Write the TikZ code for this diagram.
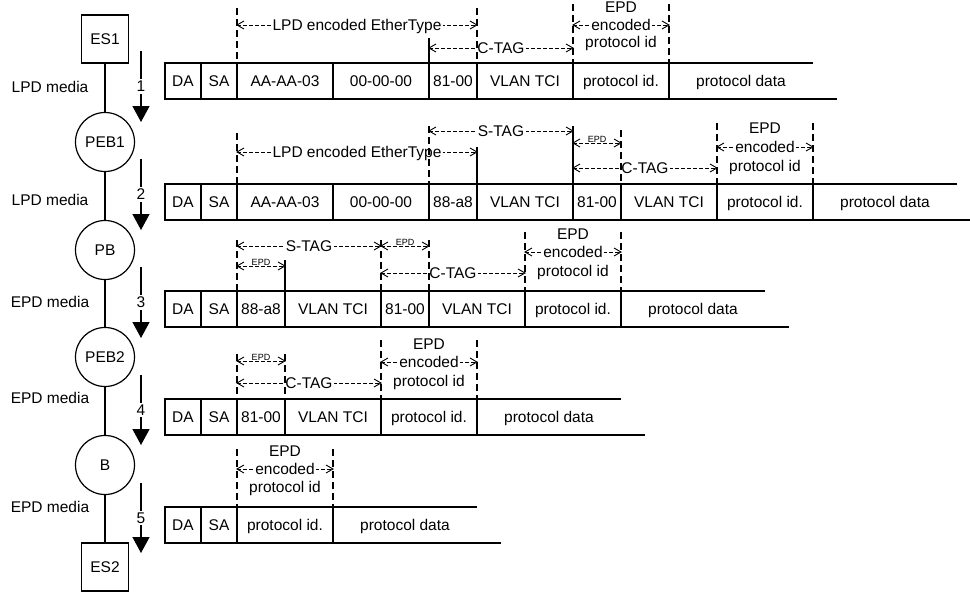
\documentclass[tikz,border=0pt]{standalone}
\usepackage{fontspec}
\setmainfont{Liberation Sans}
\usetikzlibrary{arrows.meta}
\tikzset{
  every node/.style={font=\fontsize{15.5}{18}\selectfont, inner sep=0pt},
  frm/.style={line width=1.2pt},
  cell/.style={text height=11.1pt, text depth=0pt},
  vsolid/.style={line width=1.2pt},
  vdash/.style={line width=1.2pt, dash pattern=on 7pt off 4pt},
  annd/.style={line width=0.8pt, dash pattern=on 4pt off 2pt},
  chev/.style={line width=0.9pt, line join=miter},
  lbl/.style={fill=white, inner xsep=1.5pt, inner ysep=1pt, text height=11.1pt, text depth=0pt},
  sm/.style={font=\fontsize{9}{10}\selectfont, fill=white, inner sep=0.6pt, anchor=south, yshift=-0.5pt},
  dev/.style={draw, line width=1.2pt, circle, minimum size=59pt},
  esbox/.style={draw, line width=1.2pt, minimum width=47pt, minimum height=48pt},
  flow/.style={line width=1.3pt, -{Triangle[length=16pt,width=17pt]}},
  num/.style={fill=white, inner xsep=1pt, inner ysep=2pt},
}
% dimension line: x1, x2, y, node name, node style, text
\newcommand\annot[6]{%
  \draw[annd] (#1,#3) -- node[#5] (#4) {#6} (#2,#3);
  \draw[chev] (#1,#3) ++(7,-4) -- ++(-7,4) -- ++(7,4);
  \draw[chev] (#2,#3) ++(-7,-4) -- ++(7,4) -- ++(-7,4);
}
\begin{document}
\begin{tikzpicture}[x=1pt,y=-1pt]
\useasboundingbox (0,0) rectangle (970,592);

% ---------------- left column ----------------
\node[esbox] (es1) at (105,39) {ES1};
\node[dev] (peb1) at (105,142) {PEB1};
\node[dev] (pb) at (105,250) {PB};
\node[dev] (peb2) at (105,357) {PEB2};
\node[dev] (b) at (105,465) {B};
\node[esbox] (es2) at (105,567) {ES2};
\draw[vsolid] (es1) -- (peb1) -- (pb) -- (peb2) -- (b) -- (es2);

\node (m1) at (50,87) {LPD media};
\node (m2) at (50,200) {LPD media};
\node (m3) at (50,302) {EPD media};
\node (m4) at (50,398) {EPD media};
\node (m5) at (50,507) {EPD media};

\coordinate (a1s) at (141,51);  \coordinate (a1e) at (141,122);
\coordinate (a2s) at (141,159); \coordinate (a2e) at (141,230);
\coordinate (a3s) at (141,267); \coordinate (a3e) at (141,338);
\coordinate (a4s) at (141,375); \coordinate (a4e) at (141,445);
\coordinate (a5s) at (141,483); \coordinate (a5e) at (141,553);
\draw[flow] (a1s) -- node[num] (n1) {1} (a1e);
\draw[flow] (a2s) -- node[num] (n2) {2} (a2e);
\draw[flow] (a3s) -- node[num] (n3) {3} (a3e);
\draw[flow] (a4s) -- node[num] (n4) {4} (a4e);
\draw[flow] (a5s) -- node[num] (n5) {5} (a5e);

% ---------------- row 1 ----------------
\draw[frm] (813,63) -- (165,63) -- (165,99) -- (837,99);
\foreach \x in {201,237,333,429,477,573,669} \draw[frm] (\x,63) -- (\x,99);
\node[cell] (r1a) at (183,81) {DA};
\node[cell] (r1b) at (219,81) {SA};
\node[cell] (r1c) at (285,81) {AA-AA-03};
\node[cell] (r1d) at (381,81) {00-00-00};
\node[cell] (r1e) at (453,81) {81-00};
\node[cell] (r1f) at (525,81) {VLAN TCI};
\node[cell] (r1g) at (621,81) {protocol id.};
\node[cell] (r1h) at (741,81) {protocol data};

\annot{237}{477}{25}{r1lpd}{lbl}{LPD encoded EtherType}
\annot{429}{573}{48}{r1ctag}{lbl}{C-TAG}
\node[lbl] (r1p1) at (621,7) {EPD};
\annot{573}{669}{25}{r1p2}{lbl}{encoded}
\node[lbl] (r1p3) at (621,42) {protocol id};
\draw[vdash] (237,8) -- (237,63);
\draw[vdash] (477,8) -- (477,63);
\draw[vsolid] (429,38) -- (429,63);
\draw[vdash] (573,4) -- (573,63);
\draw[vdash] (669,4) -- (669,63);

% ---------------- row 2 ----------------
\draw[frm] (957,184) -- (165,184) -- (165,220) -- (970,220);
\foreach \x in {201,237,333,429,477,573,621,717,813} \draw[frm] (\x,184) -- (\x,220);
\node[cell] (r2a) at (183,202) {DA};
\node[cell] (r2b) at (219,202) {SA};
\node[cell] (r2c) at (285,202) {AA-AA-03};
\node[cell] (r2d) at (381,202) {00-00-00};
\node[cell] (r2e) at (453,202) {88-a8};
\node[cell] (r2f) at (525,202) {VLAN TCI};
\node[cell] (r2g) at (597,202) {81-00};
\node[cell] (r2h) at (669,202) {VLAN TCI};
\node[cell] (r2i) at (765,202) {protocol id.};
\node[cell] (r2j) at (885,202) {protocol data};

\annot{429}{573}{131}{r2stag}{lbl}{S-TAG}
\annot{573}{621}{143}{r2epd}{sm}{EPD}
\annot{237}{477}{152}{r2lpd}{lbl}{LPD encoded EtherType}
\annot{573}{717}{168}{r2ctag}{lbl}{C-TAG}
\node[lbl] (r2p1) at (765,128) {EPD};
\annot{717}{813}{147}{r2p2}{lbl}{encoded}
\node[lbl] (r2p3) at (765,166) {protocol id};
\draw[vdash] (237,133) -- (237,184);
\draw[vdash] (429,126) -- (429,184);
\draw[vsolid] (477,147) -- (477,184);
\draw[vsolid] (573,126) -- (573,184);
\draw[vdash] (621,130) -- (621,184);
\draw[vdash] (717,123) -- (717,184);
\draw[vdash] (813,123) -- (813,184);

% ---------------- row 3 ----------------
\draw[frm] (765,291) -- (165,291) -- (165,327) -- (789,327);
\foreach \x in {201,237,285,381,429,525,621} \draw[frm] (\x,291) -- (\x,327);
\node[cell] (r3a) at (183,309) {DA};
\node[cell] (r3b) at (219,309) {SA};
\node[cell] (r3c) at (261,309) {88-a8};
\node[cell] (r3d) at (333,309) {VLAN TCI};
\node[cell] (r3e) at (405,309) {81-00};
\node[cell] (r3f) at (477,309) {VLAN TCI};
\node[cell] (r3g) at (573,309) {protocol id.};
\node[cell] (r3h) at (693,309) {protocol data};

\annot{237}{381}{246}{r3stag}{lbl}{S-TAG}
\annot{381}{429}{246}{r3epdb}{sm}{EPD}
\annot{237}{285}{266}{r3epda}{sm}{EPD}
\annot{381}{525}{273}{r3ctag}{lbl}{C-TAG}
\node[lbl] (r3p1) at (573,234) {EPD};
\annot{525}{621}{252}{r3p2}{lbl}{encoded}
\node[lbl] (r3p3) at (573,271) {protocol id};
\draw[vdash] (237,240) -- (237,291);
\draw[vsolid] (285,260) -- (285,291);
\draw[vdash] (381,240) -- (381,291);
\draw[vdash] (429,240) -- (429,291);
\draw[vdash] (525,232) -- (525,291);
\draw[vdash] (621,232) -- (621,291);

% ---------------- row 4 ----------------
\draw[frm] (621,399) -- (165,399) -- (165,435) -- (645,435);
\foreach \x in {201,237,285,381,477} \draw[frm] (\x,399) -- (\x,435);
\node[cell] (r4a) at (183,417) {DA};
\node[cell] (r4b) at (219,417) {SA};
\node[cell] (r4c) at (261,417) {81-00};
\node[cell] (r4d) at (333,417) {VLAN TCI};
\node[cell] (r4e) at (429,417) {protocol id.};
\node[cell] (r4f) at (549,417) {protocol data};

\annot{237}{285}{361}{r4epd}{sm}{EPD}
\annot{237}{381}{383}{r4ctag}{lbl}{C-TAG}
\node[lbl] (r4p1) at (429,344) {EPD};
\annot{381}{477}{362}{r4p2}{lbl}{encoded}
\node[lbl] (r4p3) at (429,381) {protocol id};
\draw[vdash] (237,354) -- (237,399);
\draw[vdash] (285,354) -- (285,399);
\draw[vdash] (381,340) -- (381,399);
\draw[vdash] (477,340) -- (477,399);

% ---------------- row 5 ----------------
\draw[frm] (477,507) -- (165,507) -- (165,543) -- (501,543);
\foreach \x in {201,237,333} \draw[frm] (\x,507) -- (\x,543);
\node[cell] (r5a) at (183,525) {DA};
\node[cell] (r5b) at (219,525) {SA};
\node[cell] (r5c) at (285,525) {protocol id.};
\node[cell] (r5d) at (405,525) {protocol data};

\node[lbl] (r5p1) at (285,451) {EPD};
\annot{237}{333}{469}{r5p2}{lbl}{encoded}
\node[lbl] (r5p3) at (285,487) {protocol id};
\draw[vdash] (237,449) -- (237,507);
\draw[vdash] (333,449) -- (333,507);
\end{tikzpicture}
\end{document}
